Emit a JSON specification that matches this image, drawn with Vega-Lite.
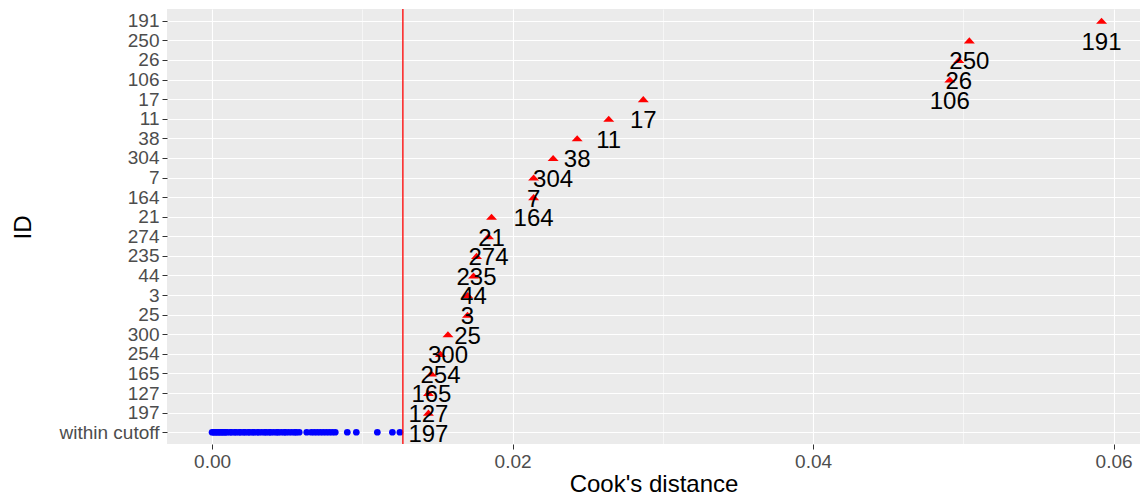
{
  "$schema": "https://vega.github.io/schema/vega-lite/v6.json",
  "width": 973,
  "height": 435,
  "autosize": {"type": "none"},
  "padding": {"left": 167, "top": 9, "right": 0, "bottom": 53},
  "background": "white",
  "config": {
    "view": {"fill": "#EBEBEB", "stroke": null},
    "axis": {
      "domain": false,
      "grid": true,
      "gridColor": "white",
      "tickColor": "#333333",
      "tickSize": 5,
      "tickWidth": 1,
      "labelColor": "#4D4D4D",
      "labelFont": "Liberation Sans",
      "labelFontSize": 19,
      "labelPadding": 3,
      "titleFont": "Liberation Sans",
      "titleFontSize": 24,
      "titleFontWeight": "normal",
      "titleColor": "black"
    }
  },
  "datasets": {
    "cooks": [
      {"id": "191", "cooks": 0.0592, "group": "outlier"},
      {"id": "250", "cooks": 0.0504, "group": "outlier"},
      {"id": "26", "cooks": 0.0497, "group": "outlier"},
      {"id": "106", "cooks": 0.0491, "group": "outlier"},
      {"id": "17", "cooks": 0.0287, "group": "outlier"},
      {"id": "11", "cooks": 0.0264, "group": "outlier"},
      {"id": "38", "cooks": 0.0243, "group": "outlier"},
      {"id": "304", "cooks": 0.0227, "group": "outlier"},
      {"id": "7", "cooks": 0.0214, "group": "outlier"},
      {"id": "164", "cooks": 0.0214, "group": "outlier"},
      {"id": "21", "cooks": 0.0186, "group": "outlier"},
      {"id": "274", "cooks": 0.0184, "group": "outlier"},
      {"id": "235", "cooks": 0.0176, "group": "outlier"},
      {"id": "44", "cooks": 0.0174, "group": "outlier"},
      {"id": "3", "cooks": 0.0170, "group": "outlier"},
      {"id": "25", "cooks": 0.0170, "group": "outlier"},
      {"id": "300", "cooks": 0.0157, "group": "outlier"},
      {"id": "254", "cooks": 0.0152, "group": "outlier"},
      {"id": "165", "cooks": 0.0146, "group": "outlier"},
      {"id": "127", "cooks": 0.0144, "group": "outlier"},
      {"id": "197", "cooks": 0.0144, "group": "outlier"},
      {"id": "within cutoff", "cooks": 0.0000, "group": "within"},
      {"id": "within cutoff", "cooks": 0.0001, "group": "within"},
      {"id": "within cutoff", "cooks": 0.0002, "group": "within"},
      {"id": "within cutoff", "cooks": 0.0003, "group": "within"},
      {"id": "within cutoff", "cooks": 0.0004, "group": "within"},
      {"id": "within cutoff", "cooks": 0.0005, "group": "within"},
      {"id": "within cutoff", "cooks": 0.0006, "group": "within"},
      {"id": "within cutoff", "cooks": 0.0007, "group": "within"},
      {"id": "within cutoff", "cooks": 0.0008, "group": "within"},
      {"id": "within cutoff", "cooks": 0.0009, "group": "within"},
      {"id": "within cutoff", "cooks": 0.0010, "group": "within"},
      {"id": "within cutoff", "cooks": 0.0012, "group": "within"},
      {"id": "within cutoff", "cooks": 0.0013, "group": "within"},
      {"id": "within cutoff", "cooks": 0.0015, "group": "within"},
      {"id": "within cutoff", "cooks": 0.0016, "group": "within"},
      {"id": "within cutoff", "cooks": 0.0018, "group": "within"},
      {"id": "within cutoff", "cooks": 0.0019, "group": "within"},
      {"id": "within cutoff", "cooks": 0.0021, "group": "within"},
      {"id": "within cutoff", "cooks": 0.0022, "group": "within"},
      {"id": "within cutoff", "cooks": 0.0024, "group": "within"},
      {"id": "within cutoff", "cooks": 0.0025, "group": "within"},
      {"id": "within cutoff", "cooks": 0.0027, "group": "within"},
      {"id": "within cutoff", "cooks": 0.0028, "group": "within"},
      {"id": "within cutoff", "cooks": 0.0030, "group": "within"},
      {"id": "within cutoff", "cooks": 0.0031, "group": "within"},
      {"id": "within cutoff", "cooks": 0.0033, "group": "within"},
      {"id": "within cutoff", "cooks": 0.0035, "group": "within"},
      {"id": "within cutoff", "cooks": 0.0036, "group": "within"},
      {"id": "within cutoff", "cooks": 0.0038, "group": "within"},
      {"id": "within cutoff", "cooks": 0.0039, "group": "within"},
      {"id": "within cutoff", "cooks": 0.0041, "group": "within"},
      {"id": "within cutoff", "cooks": 0.0043, "group": "within"},
      {"id": "within cutoff", "cooks": 0.0044, "group": "within"},
      {"id": "within cutoff", "cooks": 0.0046, "group": "within"},
      {"id": "within cutoff", "cooks": 0.0048, "group": "within"},
      {"id": "within cutoff", "cooks": 0.0049, "group": "within"},
      {"id": "within cutoff", "cooks": 0.0051, "group": "within"},
      {"id": "within cutoff", "cooks": 0.0053, "group": "within"},
      {"id": "within cutoff", "cooks": 0.0055, "group": "within"},
      {"id": "within cutoff", "cooks": 0.0056, "group": "within"},
      {"id": "within cutoff", "cooks": 0.0058, "group": "within"},
      {"id": "within cutoff", "cooks": 0.0063, "group": "within"},
      {"id": "within cutoff", "cooks": 0.0066, "group": "within"},
      {"id": "within cutoff", "cooks": 0.0068, "group": "within"},
      {"id": "within cutoff", "cooks": 0.0070, "group": "within"},
      {"id": "within cutoff", "cooks": 0.0072, "group": "within"},
      {"id": "within cutoff", "cooks": 0.0074, "group": "within"},
      {"id": "within cutoff", "cooks": 0.0076, "group": "within"},
      {"id": "within cutoff", "cooks": 0.0078, "group": "within"},
      {"id": "within cutoff", "cooks": 0.0080, "group": "within"},
      {"id": "within cutoff", "cooks": 0.0082, "group": "within"},
      {"id": "within cutoff", "cooks": 0.0090, "group": "within"},
      {"id": "within cutoff", "cooks": 0.0096, "group": "within"},
      {"id": "within cutoff", "cooks": 0.0110, "group": "within"},
      {"id": "within cutoff", "cooks": 0.0120, "group": "within"},
      {"id": "within cutoff", "cooks": 0.0125, "group": "within"}
    ],
    "cutoff": [{"cooks": 0.0127}]
  },
  "layer": [
    {
      "data": {"name": "cooks"},
      "transform": [{"filter": "datum.group === 'within'"}],
      "mark": {"type": "point", "shape": "circle", "filled": true, "color": "#0000FF", "opacity": 1, "size": 45},
      "encoding": {
        "x": {
          "field": "cooks",
          "type": "quantitative",
          "scale": {"domain": [-0.003, 0.06176], "nice": false, "zero": false},
          "axis": {
            "title": "Cook's distance",
            "values": [0, 0.01, 0.02, 0.03, 0.04, 0.05, 0.06],
            "labelExpr": "round(datum.value * 100) % 2 === 0 ? format(datum.value, '.2f') : ''",
            "gridWidth": {"condition": {"test": "round(datum.value * 100) % 2 === 0", "value": 1.1}, "value": 0.55},
            "tickOpacity": {"condition": {"test": "round(datum.value * 100) % 2 === 0", "value": 1}, "value": 0},
            "titleBaseline": "top",
            "titleY": 28
          }
        },
        "y": {
          "field": "id",
          "type": "ordinal",
          "scale": {
            "type": "point",
            "padding": 0.6,
            "domain": ["191", "250", "26", "106", "17", "11", "38", "304", "7", "164", "21", "274", "235", "44", "3", "25", "300", "254", "165", "127", "197", "within cutoff"]
          },
          "axis": {
            "title": "ID",
            "gridWidth": 1.1,
            "titleX": -137,
            "titleY": 218,
            "titleBaseline": "alphabetic"
          }
        }
      }
    },
    {
      "data": {"name": "cooks"},
      "transform": [{"filter": "datum.group === 'outlier'"}],
      "mark": {"type": "point", "shape": "M-1,0.55L1,0.55L0,-0.55Z", "filled": true, "color": "#FF0000", "opacity": 1, "size": 121},
      "encoding": {
        "x": {"field": "cooks", "type": "quantitative"},
        "y": {"field": "id", "type": "ordinal"}
      }
    },
    {
      "data": {"name": "cutoff"},
      "mark": {"type": "rule", "color": "#FF0000", "strokeWidth": 1.3},
      "encoding": {
        "x": {"field": "cooks", "type": "quantitative"}
      }
    },
    {
      "data": {"name": "cooks"},
      "transform": [{"filter": "datum.group === 'outlier'"}],
      "mark": {"type": "text", "font": "Liberation Sans", "fontSize": 24, "color": "black", "align": "center", "baseline": "middle", "dy": 22},
      "encoding": {
        "x": {"field": "cooks", "type": "quantitative"},
        "y": {"field": "id", "type": "ordinal"},
        "text": {"field": "id"}
      }
    }
  ]
}
